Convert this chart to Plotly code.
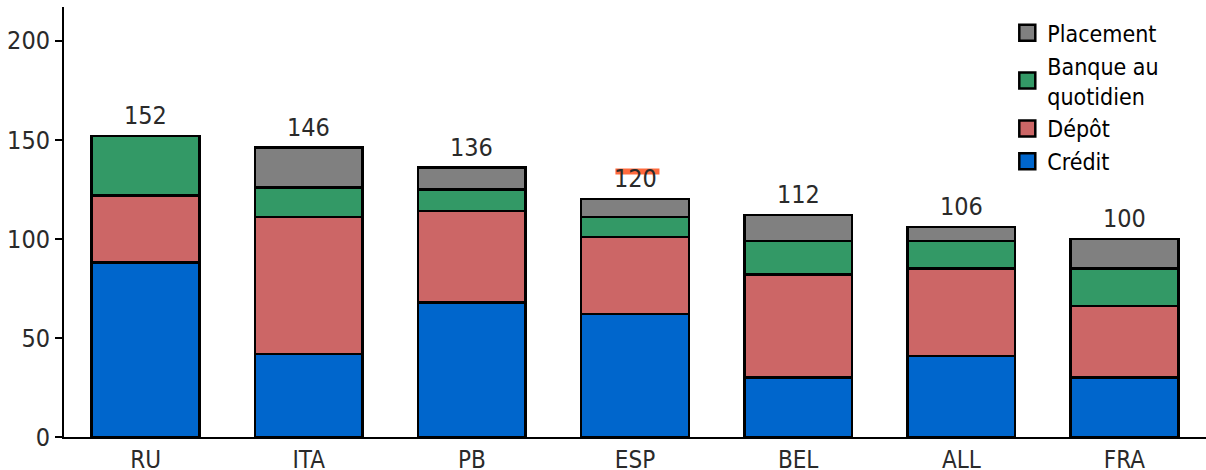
import plotly.graph_objects as go

categories = ["RU", "ITA", "PB", "ESP", "BEL", "ALL", "FRA"]
credit = [88, 42, 68, 62, 30, 41, 30]
depot = [34, 69, 46, 39, 52, 44, 36]
banque = [30, 15, 11, 10, 17, 14, 19]
placement = [0, 20, 11, 9, 13, 7, 15]
y_ticks = [0, 50, 100, 150, 200]

series = [
    ("Crédit", credit, "#0066CC"),
    ("Dépôt", depot, "#CC6666"),
    ("Banque au<br>quotidien", banque, "#339966"),
    ("Placement", placement, "#808080"),
]

totals = [sum(v) for v in zip(credit, depot, banque, placement)]

FONT = "DejaVu Sans Condensed, DejaVu Sans"
TXT = "#2a2a2a"
fig = go.Figure()
for name, vals, color in series:
    fig.add_trace(go.Bar(
        x=categories, y=vals, name=name, showlegend=False,
        marker=dict(color=color, line=dict(color="black", width=2.5)),
        width=0.66,
    ))

# legend entries (larger square swatches)
for name, vals, color in reversed(series):
    fig.add_trace(go.Scatter(
        x=[None], y=[None], mode="markers", name=name,
        marker=dict(symbol="square", size=16, color=color,
                    line=dict(color="black", width=2.5)),
    ))

for c, t in zip(categories, totals):
    fig.add_annotation(x=c, y=t, text=str(t), showarrow=False,
                       yanchor="bottom", yshift=4,
                       font=dict(family=FONT, size=25, color=TXT))

# orange highlight mark above the ESP total label (as in the reference)
esp_i = categories.index("ESP")
fig.add_shape(type="rect", xref="x", yref="y",
              x0=esp_i - 0.12, x1=esp_i + 0.15,
              y0=totals[esp_i] + 12.5, y1=totals[esp_i] + 15.5,
              fillcolor="#FF6A3D", line=dict(width=0), layer="below")

fig.update_layout(
    barmode="stack",
    width=1206, height=470,
    margin=dict(l=64, r=0, t=7, b=33),
    plot_bgcolor="white", paper_bgcolor="white",
    font=dict(family=FONT, size=25, color=TXT),
    legend=dict(x=0.826, y=0.99, xanchor="left", yanchor="top",
                traceorder="normal", font=dict(family=FONT, size=23, color="black"),
                itemsizing="trace", itemwidth=30, tracegroupgap=0,
                bgcolor="rgba(0,0,0,0)"),
)
fig.update_xaxes(showline=True, linecolor="black", linewidth=2, ticks="",
                 tickfont=dict(family=FONT, size=24, color=TXT),
                 range=[-0.5, 6.5], showgrid=False, automargin=False)
fig.update_yaxes(range=[0, 217], tickvals=y_ticks, showline=True, linecolor="black",
                 linewidth=2, ticks="outside", ticklen=7, tickwidth=2, tickcolor="black",
                 showgrid=False, zeroline=False, automargin=False,
                 tickfont=dict(family=FONT, size=25, color=TXT))

fig.write_html("out.html", config={"displayModeBar": False},
               post_script="document.body.style.margin='0';")
